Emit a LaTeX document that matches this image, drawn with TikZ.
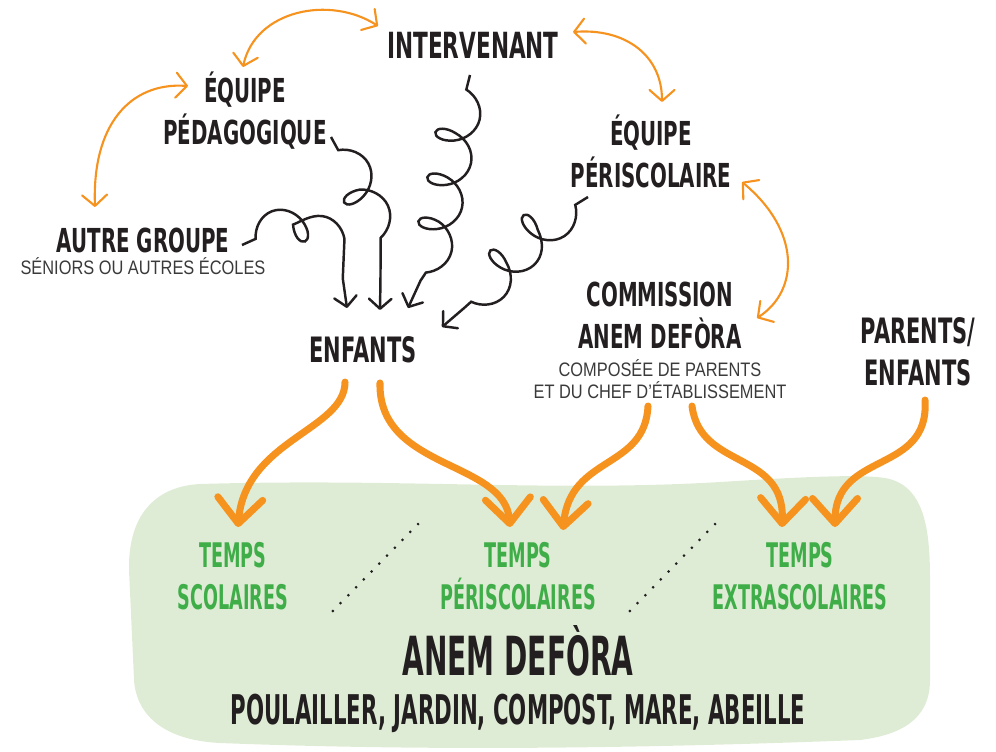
\documentclass[tikz,border=0pt]{standalone}
\usepackage{fontspec}
\usetikzlibrary{arrows.meta,calc,decorations.pathmorphing}
\newfontfamily\hand{DejaVu Sans}[FakeStretch=0.6]
\newfontfamily\handn{DejaVu Sans}[FakeStretch=0.52]
\newfontfamily\thin{Liberation Sans}[FakeStretch=0.84]
\definecolor{ink}{HTML}{231F20}
\definecolor{grey}{HTML}{3A3A3A}
\definecolor{fruit}{HTML}{F6921E}
\definecolor{leaf}{HTML}{3FAE49}
\definecolor{meadow}{HTML}{DFECD5}

\begin{document}
\begin{tikzpicture}[x=0.02cm,y=-0.02cm,
  word/.style={font=\hand\bfseries\fontsize{#1}{23.9}\selectfont,text=ink,align=center,inner sep=1pt},
  word/.default=18.8,
  temps/.style={font=\handn\bfseries\fontsize{19.3}{23.9}\selectfont,text=leaf,align=center,inner sep=1pt},
  small/.style={font=\thin\fontsize{11.1}{12.6}\selectfont,text=grey,align=center,inner sep=1pt},
  fat/.style={draw=fruit,line width=4pt,line cap=round,-{Straight Barb[length=0.5cm,width=0.9cm,round]}},
  link/.style={draw=fruit,line width=1.2pt,line cap=round,
    {Straight Barb[length=0.22cm,width=0.5cm,round]}-{Straight Barb[length=0.22cm,width=0.5cm,round]}},
  curl/.style={draw=ink,line width=1.4pt,-{Straight Barb[length=0.2cm,width=0.45cm,round]},decorate,
    decoration={coil,aspect=0.75,amplitude=0.4cm,segment length=#1,pre length=0.3cm,post length=0.6cm}},
  curl/.default=0.9cm,
  dots/.style={draw=ink,line width=1.7pt,line cap=round,dash pattern=on 0pt off 6.3pt}]
\useasboundingbox (0,0) rectangle (996,751);

% le jardin
\fill[meadow] (200,484) .. controls (400,478) and (550,492) .. (720,482)
  .. controls (800,477) and (860,474) .. (885,478) .. controls (925,485) and (930,530) .. (930,580)
  -- (930,680) .. controls (930,720) and (900,735) .. (860,740)
  .. controls (600,750) and (400,750) .. (220,743) .. controls (160,740) and (136,712) .. (134,680)
  -- (129,570) .. controls (128,510) and (160,486) .. (200,484) -- cycle;

% acteurs
\node[word=20.5] (interv) at (473,45) {INTERVENANT};
\node[word] (pedago) at (245,111) {ÉQUIPE\\PÉDAGOGIQUE};
\node[word] (peri) at (651,151) {ÉQUIPE\\PÉRISCOLAIRE};
\node[word] (autre) at (143,240) {AUTRE GROUPE};
\node[small] (autresub) at (143,266) {SÉNIORS OU AUTRES ÉCOLES};
\node[word=19.9] (enfants) at (363,350) {ENFANTS};
\node[word] (commission) at (660,315) {COMMISSION\\ANEM DEFÒRA};
\node[small] (commsub) at (660,379) {COMPOSÉE DE PARENTS\\ET DU CHEF D’ÉTABLISSEMENT};
\node[word=19.9] (parents) at (918,352) {PARENTS/\\ENFANTS};

% temps
\node[temps] (scol) at (233,576) {TEMPS\\SCOLAIRES};
\node[temps] (periscol) at (518,576) {TEMPS\\PÉRISCOLAIRES};
\node[temps] (extra) at (800,576) {TEMPS\\EXTRASCOLAIRES};
\node[word,font=\handn\bfseries\fontsize{30.7}{32}\selectfont] (anem) at (518,651) {ANEM DEFÒRA};
\node[word,font=\handn\bfseries\fontsize{23.3}{26}\selectfont] (lieux) at (518,713) {POULAILLER, JARDIN, COMPOST, MARE, ABEILLE};

\draw[dots] (418,524) -- (326,618);
\draw[dots] (715,524) -- (623,618);

% liens entre acteurs
\draw[link] ($(pedago)+(-2,-44)$) .. controls +(12,-57) and +(-48,-31) .. ($(interv)+(-95,-19)$);
\draw[link] ($(interv)+(100,-13)$) .. controls +(52,-4) and +(0,-47) .. ($(peri)+(11,-49)$);
\draw[link] ($(pedago)+(-57,-25)$) .. controls +(-58,-4) and +(-3,-82) .. ($(autre)+(-48,-33)$);
\draw[link] ($(peri)+(91,31)$) .. controls +(58,48) and +(43,-28) .. ($(commission)+(97,3)$);

% vers les enfants
\draw[curl=0.8cm] ($(autre)+(99,5)$) .. controls +(58,-30) and +(-2,-68) .. ($(enfants)+(-16,-42)$);
\draw[curl] ($(pedago)+(86,26)$) .. controls +(29,53) and +(5,-80) .. ($(enfants)+(17,-40)$);
\draw[curl] ($(interv)+(-3,30)$) .. controls +(-20,75) and +(32,-58) .. ($(enfants)+(45,-42)$);
\draw[curl] ($(peri)+(-63,46)$) .. controls +(-58,33) and +(48,-37) .. ($(enfants)+(79,-23)$);

% vers les temps
\draw[fat] ($(enfants)+(-18,32)$) .. controls +(0,48) and +(7,-87) .. ($(scol)+(5,-49)$);
\draw[fat] ($(enfants)+(17,33)$) .. controls +(-2,87) and +(-5,-67) .. ($(periscol)+(-8,-49)$);
\draw[fat] ($(commsub)+(-12,27)$) .. controls +(-3,64) and +(7,-75) .. ($(periscol)+(45,-46)$);
\draw[fat] ($(commsub)+(32,27)$) .. controls +(8,64) and +(3,-77) .. ($(extra)+(-18,-49)$);
\draw[fat] ($(parents)+(7,48)$) .. controls +(5,75) and +(0,-77) .. ($(extra)+(35,-49)$);
\end{tikzpicture}
\end{document}
